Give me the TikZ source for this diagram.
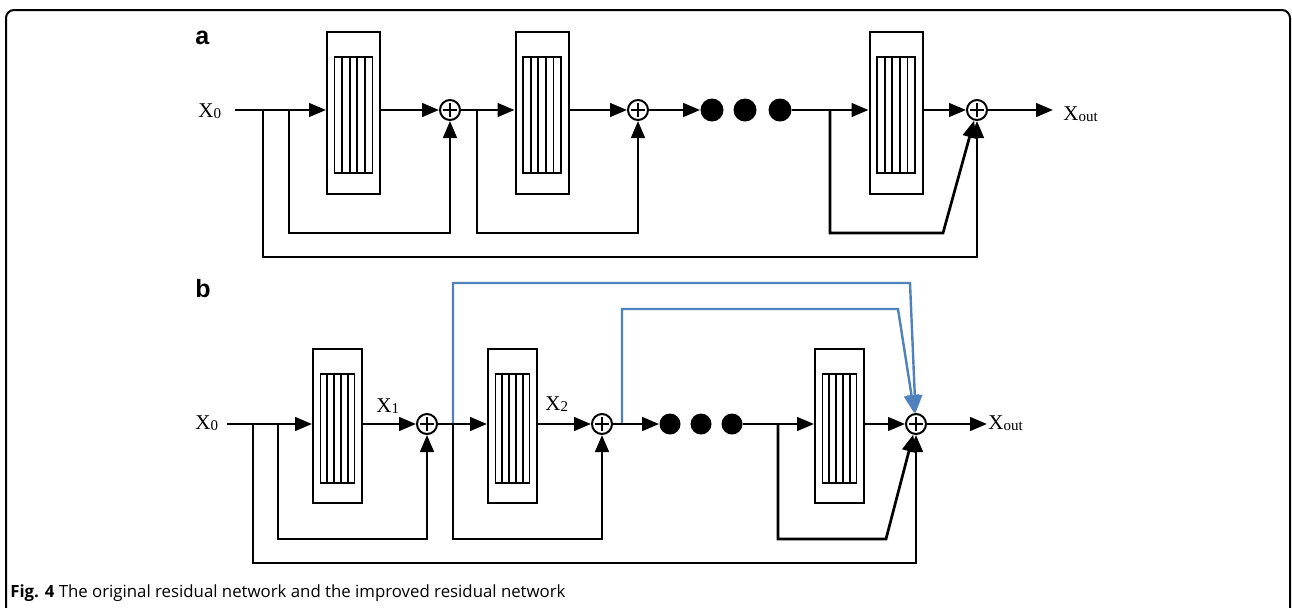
\documentclass[tikz,border=0pt]{standalone}
\usepackage{fontspec}
\setmainfont{Liberation Serif}
\newfontfamily\capfont{Open Sans}
\newfontfamily\labfont{Liberation Sans}
\usetikzlibrary{arrows.meta,calc}
\definecolor{linkblue}{RGB}{79,129,189}
\newcommand{\XS}[1]{X\raisebox{-0.8pt}{\fontsize{7.5}{8}\selectfont #1}}
\begin{document}
\begin{tikzpicture}[x=0.5pt,y=-0.5pt,
  main/.style={line width=1.35pt},
  arr/.style={main,-{Triangle[length=8.5pt,width=6.8pt]}},
  barr/.style={line width=1.2pt,draw=linkblue,-{Triangle[length=9pt,width=7.5pt]}},
  adder/.style={circle,draw,line width=1pt,minimum size=10pt,inner sep=0pt,
    path picture={\draw[line width=0.9pt]
      ([xshift=-3.3pt]path picture bounding box.center) -- ([xshift=3.3pt]path picture bounding box.center)
      ([yshift=-3.3pt]path picture bounding box.center) -- ([yshift=3.3pt]path picture bounding box.center);}},
  dota/.style={circle,fill,inner sep=0pt,minimum size=11.5pt},
  dotb/.style={circle,fill,inner sep=0pt,minimum size=10.5pt},
  blka/.style={draw,line width=1pt,inner sep=0pt,minimum width=26.5pt,minimum height=81pt},
  blkb/.style={draw,line width=1pt,inner sep=0pt,minimum width=24.5pt,minimum height=77pt},
  stripe/.style={line width=0.9pt},
  lbl/.style={inner sep=0pt,anchor=base west},
  xl/.style={lbl,font=\fontsize{10.5}{12}\selectfont},
  panel/.style={inner sep=0pt,anchor=base west,font=\labfont\bfseries\fontsize{12.5}{14}\selectfont}
]
\useasboundingbox (0,0) rectangle (1292,607);
% frame
\draw[line width=1pt,rounded corners=4pt] (6,612) -- (6,10) -- (1290,10) -- (1290,612);
% caption
\node[lbl,font=\capfont\fontsize{8.4}{10}\selectfont] (cap) at (10,597) {\textbf{Fig. 4} The original residual network and the improved residual network};

% ---------------- panel a ----------------
\node[panel] (la) at (195,44) {a};
\node[xl] (xa0) at (198,117) {\XS{0}};
\coordinate (a0s) at (235,110);
\node[blka] (A1) at (353.5,113) {};
\node[blka] (A2) at (542,113) {};
\node[blka] (A3) at (896,113) {};
\foreach \n in {A1,A2,A3}{
  \draw[stripe] ([shift={(-9.5pt,-30pt)}]\n.center) rectangle ([shift={(9.5pt,28pt)}]\n.center);
  \foreach \dx in {-5.7pt,-1.9pt,1.9pt,5.7pt}
    \draw[stripe] ([shift={(\dx,-30pt)}]\n.center) -- ([shift={(\dx,28pt)}]\n.center);
}
\node[adder] (pa1) at (450,110) {};
\node[adder] (pa2) at (638,110) {};
\node[adder] (pa3) at (977,110) {};
\node[dota] (da1) at (712,110) {};
\node[dota] (da2) at (745,110) {};
\node[dota] (da3) at (780,110) {};
\coordinate (aout) at (1053,110);
\node[xl] (xaout) at (1063,120) {\XS{out}};
\coordinate (a1b) at (263,110);
\coordinate (a1d) at (263,257);
\coordinate (a2b) at (289,110);
\coordinate (a2d) at (289,233);
\coordinate (a4b) at (477,110);
\coordinate (a4d) at (477,233);
\coordinate (a5b) at (830,110);
\coordinate (a5d) at (830,233);
\coordinate (a5e) at (943,233);

\draw[arr] (a0s) -- (a0s -| A1.west);
\draw[arr] (a0s -| A1.east) -- (pa1);
\draw[arr] (pa1) -- (pa1 -| A2.west);
\draw[arr] (pa1 -| A2.east) -- (pa2);
\draw[arr] (pa2) -- (da1);
\draw[arr] (da3) -- (da3 -| A3.west);
\draw[arr] (da3 -| A3.east) -- (pa3);
\draw[arr] (pa3) -- (aout);
\draw[arr] (a2b) -- (a2d) -| (pa1);
\draw[arr] (a4b) -- (a4d) -| (pa2);
\draw[arr] (a5b) -- (a5d) -- (a5e) -- (pa3);
\draw[arr] (a1b) -- (a1d) -| (pa3);

% ---------------- panel b ----------------
\node[panel] (lb) at (195,297) {b};
\node[xl] (xb0) at (195,429) {\XS{0}};
\coordinate (b0s) at (227,424);
\node[blkb] (B1) at (337.5,426) {};
\node[blkb] (B2) at (512.5,426) {};
\node[blkb] (B3) at (839.5,426) {};
\foreach \n in {B1,B2,B3}{
  \draw[stripe] ([shift={(-8.5pt,-28.5pt)}]\n.center) rectangle ([shift={(8.5pt,26pt)}]\n.center);
  \foreach \dx in {-5.1pt,-1.7pt,1.7pt,5.1pt}
    \draw[stripe] ([shift={(\dx,-28.5pt)}]\n.center) -- ([shift={(\dx,26pt)}]\n.center);
}
\node[adder] (pb1) at (427,424) {};
\node[adder] (pb2) at (602,424) {};
\node[adder] (pb3) at (916,424) {};
\node[dotb] (db1) at (670,424) {};
\node[dotb] (db2) at (701,424) {};
\node[dotb] (db3) at (732,424) {};
\node[xl] (xb1) at (376,412) {\XS{1}};
\node[xl] (xb2) at (545,410) {\XS{2}};
\coordinate (bout) at (987,424);
\node[xl] (xbout) at (988,429) {\XS{out}};
\coordinate (b1b) at (253,424);
\coordinate (b1d) at (253,563);
\coordinate (b2b) at (278,424);
\coordinate (b2d) at (278,539);
\coordinate (b4b) at (453,424);
\coordinate (b4d) at (453,539);
\coordinate (b5b) at (778,424);
\coordinate (b5d) at (778,539);
\coordinate (b5e) at (886,539);
\coordinate (bu1) at (453,283);
\coordinate (bu2) at (910,283);
\coordinate (bv1) at (622,424);
\coordinate (bv2) at (622,309);
\coordinate (bv3) at (898,309);

\draw[barr] (b4b) -- (bu1) -- (bu2) -- (pb3);
\draw[barr] (bv1) -- (bv2) -- (bv3) -- (pb3);
\draw[arr] (b0s) -- (b0s -| B1.west);
\draw[arr] (b0s -| B1.east) -- (pb1);
\draw[arr] (pb1) -- (pb1 -| B2.west);
\draw[arr] (pb1 -| B2.east) -- (pb2);
\draw[arr] (pb2) -- (db1);
\draw[arr] (db3) -- (db3 -| B3.west);
\draw[arr] (db3 -| B3.east) -- (pb3);
\draw[arr] (pb3) -- (bout);
\draw[arr] (b2b) -- (b2d) -| (pb1);
\draw[arr] (b4b) -- (b4d) -| (pb2);
\draw[arr] (b5b) -- (b5d) -- (b5e) -- (pb3);
\draw[arr] (b1b) -- (b1d) -| (pb3);
\end{tikzpicture}
\end{document}
